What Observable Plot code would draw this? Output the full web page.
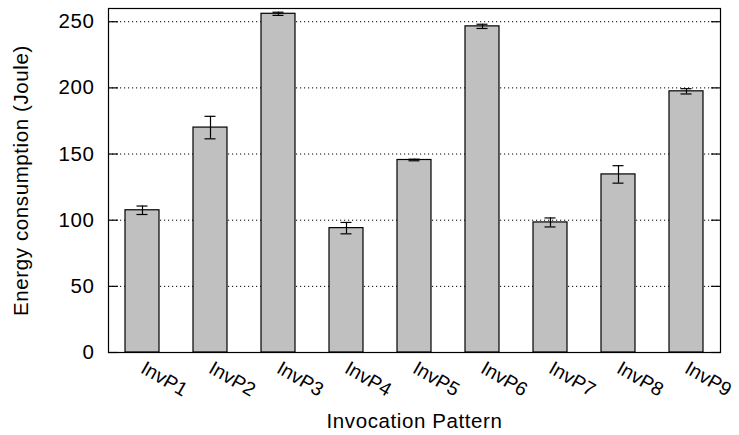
<!DOCTYPE html>
<html>
<head>
<meta charset="utf-8">
<script src="https://cdn.jsdelivr.net/npm/d3@7"></script>
<script src="https://cdn.jsdelivr.net/npm/@observablehq/plot@0.6"></script>
<style>
  html, body { margin: 0; padding: 0; background: #fff; }
  svg { font-family: "Liberation Sans", Arial, sans-serif; }
</style>
</head>
<body>
<div id="chart"></div>
<script>
const patterns = ["InvP1","InvP2","InvP3","InvP4","InvP5","InvP6","InvP7","InvP8","InvP9"];
const energy   = [107.5, 170, 256, 94, 145.5, 246.5, 98.3, 134.6, 197.4];
const errors   = [3.2, 8.5, 1.2, 4.3, 0.6, 1.6, 3.4, 6.6, 2.0];
const yTicks   = [0, 50, 100, 150, 200, 250];
const xTitle = "Invocation Pattern";
const yTitle = "Energy consumption (Joule)";

const data = patterns.map((p, i) => ({name: p, value: energy[i], lo: energy[i] - errors[i], hi: energy[i] + errors[i]}));

const chart = Plot.plot({
  width: 739,
  height: 435,
  marginLeft: 108,
  marginRight: 19,
  marginTop: 8,
  marginBottom: 83,
  style: {fontSize: "20px", fontFamily: "Liberation Sans, Arial, sans-serif", background: "#fff", color: "#000", overflow: "visible"},
  x: {domain: patterns, paddingInner: 0.5, paddingOuter: 0.25, label: null},
  y: {domain: [0, 260], ticks: yTicks, label: null},
  marks: [
    Plot.gridY(yTicks.filter(d => d > 0), {stroke: "#000", strokeOpacity: 1, strokeDasharray: "1.2,2.8", strokeWidth: 1}),
    Plot.barY(data, {x: "name", y: "value", fill: "#c0c0c0", stroke: "#000", strokeWidth: 1.2}),
    Plot.ruleX(data, {x: "name", y1: "lo", y2: "hi", stroke: "#000", strokeWidth: 1.2}),
    Plot.tickY(data, {x: "name", y: "lo", insetLeft: 11.5, insetRight: 11.5, stroke: "#000", strokeWidth: 1.2}),
    Plot.tickY(data, {x: "name", y: "hi", insetLeft: 11.5, insetRight: 11.5, stroke: "#000", strokeWidth: 1.2}),
    Plot.axisY(yTicks, {anchor: "left", tickSize: -10, text: null, label: null, strokeWidth: 1.2}),
    Plot.axisY(yTicks, {anchor: "right", tickSize: -10, text: null, label: null, strokeWidth: 1.2}),
    Plot.axisY(yTicks, {anchor: "left", tickSize: 0, tickPadding: 14, label: null, fontSize: 20.5, fill: "#000", style: "letter-spacing:0.7px"}),
    Plot.axisX({anchor: "bottom", tickSize: 0, tickRotate: 30, textAnchor: "start", tickPadding: 14, label: null, fontSize: 19.5, fill: "#000"}),
    Plot.frame({stroke: "#000", strokeWidth: 1.2}),
    Plot.text([yTitle], {frameAnchor: "left", rotate: -90, dx: -87, textAnchor: "middle", fontSize: 20.5, fill: "#000"}),
    Plot.text([xTitle], {frameAnchor: "bottom", dy: 75, textAnchor: "middle", fontSize: 20.5, fill: "#000"})
  ]
});
chart.querySelectorAll("text").forEach(t => { if (!t.closest("[aria-label='x-axis tick label']")) t.style.letterSpacing = "0.6px"; });
document.getElementById("chart").appendChild(chart);
</script>
</body>
</html>
